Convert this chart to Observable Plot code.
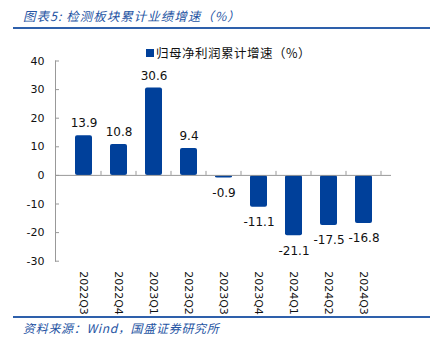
<!DOCTYPE html>
<html><head><meta charset="utf-8">
<script src="https://cdn.jsdelivr.net/npm/d3@7"></script>
<script src="https://cdn.jsdelivr.net/npm/@observablehq/plot@0.6"></script>
<style>
html,body{margin:0;padding:0;background:#fff;}
#wrap{position:relative;width:443px;height:347px;overflow:hidden;background:#fff;}
#wrap svg{position:absolute;left:0;top:0;}
.title{position:absolute;left:23px;top:6px;font:italic 12.5px "Noto Sans CJK SC",sans-serif;letter-spacing:1px;color:#2554a3;white-space:nowrap;}
.hline{position:absolute;left:13px;width:417px;height:2px;background:#2e60ab;}
.legend{position:absolute;left:146px;top:43px;font:12.5px "Noto Sans CJK SC",sans-serif;letter-spacing:0.5px;color:#111;white-space:nowrap;display:flex;align-items:center;}
.legend span.sw{display:inline-block;width:8px;height:8px;background:#00409a;margin-right:2px;}
.foot{position:absolute;left:23px;top:319px;font:italic 12px "Noto Sans CJK SC",sans-serif;letter-spacing:0.7px;color:#2554a3;white-space:nowrap;}
</style></head>
<body>
<div id="wrap">
  <div class="title">图表5:  检测板块累计业绩增速（%）</div>
  <div class="hline" style="top:27px"></div>
  <div class="legend"><span class="sw"></span>归母净利润累计增速（%）</div>
  <div class="hline" style="top:316px"></div>
  <div class="foot">资料来源：Wind，国盛证券研究所</div>
</div>
<script>
const categories = ["2022Q3","2022Q4","2023Q1","2023Q2","2023Q3","2023Q4","2024Q1","2024Q2","2024Q3"];
const growth = [13.9, 10.8, 30.6, 9.4, -0.9, -11.1, -21.1, -17.5, -16.8];
const yTicks = [-30, -20, -10, 0, 10, 20, 30, 40];

const data = categories.map((q, i) => ({q, v: growth[i], label: growth[i].toFixed(1)}));

function boundaryTicks(index, scales, values, dims) {
  const x = scales.x, y = scales.y;
  const step = x(categories[1]) - x(categories[0]);
  const bw = typeof x.bandwidth === "function" ? x.bandwidth() : step * 0.48;
  const g = d3.create("svg:g");
  const y0 = y(0);
  for (let i = 0; i < categories.length; i++) {
    const xx = x(categories[i]) + bw / 2 + step / 2;
    g.append("line").attr("x1", xx).attr("x2", xx).attr("y1", y0).attr("y2", y0 - 4)
      .attr("stroke", "#999").attr("stroke-width", 1);
  }
  return g.node();
}

const chart = Plot.plot({
  width: 443, height: 347,
  marginLeft: 55, marginRight: 52, marginTop: 60.5, marginBottom: 86.3,
  style: {fontFamily: "DejaVu Sans", fontSize: "11px", background: "transparent", color: "#111"},
  x: {domain: categories, padding: 0.52},
  y: {domain: [-30, 40]},
  marks: [
    Plot.frame({anchor: "left", stroke: "#999"}),
    Plot.axisY({ticks: yTicks, tickSize: -4, tickPadding: 15, label: null, stroke: "#999", tickFormat: d => d}),
    Plot.barY(data, {x: "q", y: "v", fill: "#00409a", rx: 2}),
    Plot.ruleY([0], {stroke: "#999"}),
    boundaryTicks,
    Plot.axisX({tickSize: 0, tickPadding: 10, tickRotate: 90, label: null, fontSize: 11}),
    Plot.text(data.filter(d => d.v >= 0), {x: "q", y: "v", text: "label", dy: -12, fontSize: 12, fill: "#111"}),
    Plot.text(data.filter(d => d.v < 0), {x: "q", y: "v", text: "label", dy: 15, fontSize: 12, fill: "#111"})
  ]
});
document.getElementById("wrap").prepend(chart);
</script>
</body></html>
